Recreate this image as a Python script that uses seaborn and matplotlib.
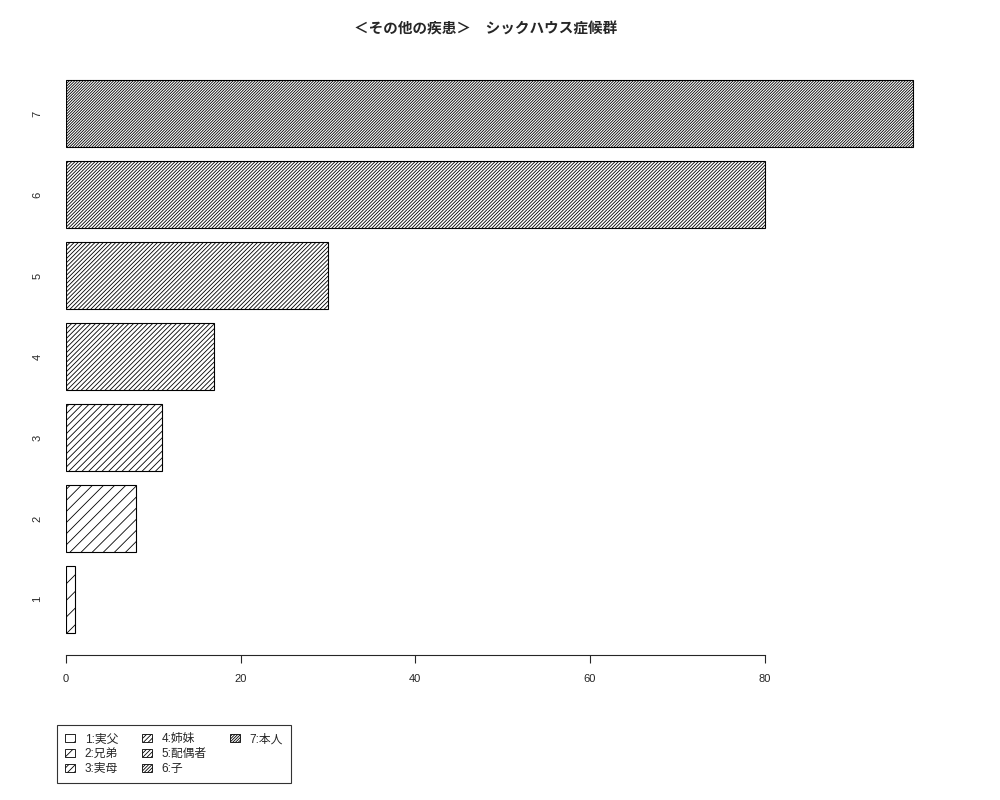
import matplotlib
matplotlib.use("Agg")
import matplotlib.pyplot as plt
import seaborn as sns
import pandas as pd
from matplotlib.patches import Patch

# Data
categories = ['1', '2', '3', '4', '5', '6', '7']
values = [1, 8, 11, 17, 30, 80, 97]
legend_labels = ['1:実父', '2:兄弟', '3:実母', '4:姉妹', '5:配偶者', '6:子', '7:本人']
x_ticks = [0, 20, 40, 60, 80]
title = '＜その他の疾患＞　シックハウス症候群'

sns.set_style("white")
plt.rcParams['font.family'] = ['Liberation Sans', 'Noto Sans CJK JP', 'DejaVu Sans']
plt.rcParams['hatch.linewidth'] = 0.6

df = pd.DataFrame({'cat': categories, 'val': values})
order = categories[::-1]  # 7 at top, 1 at bottom


def hatch_for(cat):
    # line density grows with the category number (R style density hatching)
    return '/' * round(int(cat) * 5 / 3)


W, H = 1000, 800
fig = plt.figure(figsize=(10, 8), dpi=100)
# axes box in pixels: x 66..947, y 58..655
ax = fig.add_axes([66 / W, 1 - 655 / H, (947 - 66) / W, (655 - 58) / H])

sns.barplot(data=df, x='val', y='cat', order=order, orient='h',
            color='white', edgecolor='black', linewidth=0.8,
            width=1 / 1.2, saturation=1, ax=ax)

for patch, cat in zip(ax.patches, order):
    patch.set_hatch(hatch_for(cat))
    patch.set_facecolor('white')
    patch.set_edgecolor('black')

ax.set_xlim(0, 100.88)
ax.set_ylim(6.688, -0.688)
ax.set_xlabel('')
ax.set_ylabel('')

for s in ['top', 'right', 'left']:
    ax.spines[s].set_visible(False)
ax.spines['bottom'].set_bounds(0, 80)
ax.spines['bottom'].set_linewidth(0.8)
ax.set_xticks(x_ticks)
ax.set_xticklabels([str(t) for t in x_ticks], fontsize=8)
ax.tick_params(axis='x', direction='out', length=5.5, width=0.8, pad=8, bottom=True)
ax.tick_params(axis='y', length=0, pad=17, labelsize=8)
for lbl in ax.get_yticklabels():
    lbl.set_rotation(90)
    lbl.set_va('center')

fig.text(486 / W, 1 - 29 / H, title, ha='center', va='center',
         fontsize=10.5, fontweight='bold')

# Legend: three columns, 3 + 3 + 1
handles = [Patch(facecolor='white', edgecolor='black', hatch=hatch_for(c),
                 linewidth=0.6, label=lab) for c, lab in zip(categories, legend_labels)]
blank = Patch(visible=False, label='')
handles = handles + [blank, blank]
leg = fig.legend(handles=handles, labels=[h.get_label() for h in handles],
                 ncol=3, loc='upper left', bbox_to_anchor=(57 / W, 1 - 725 / H),
                 fontsize=8.5, frameon=True, fancybox=False, edgecolor='black',
                 handlelength=0.85, handleheight=0.75, handletextpad=0.8,
                 columnspacing=2.0, labelspacing=0.25, borderpad=0.7,
                 borderaxespad=0)
leg.get_frame().set_linewidth(0.8)

fig.savefig('out.png', dpi=100, facecolor='white')
